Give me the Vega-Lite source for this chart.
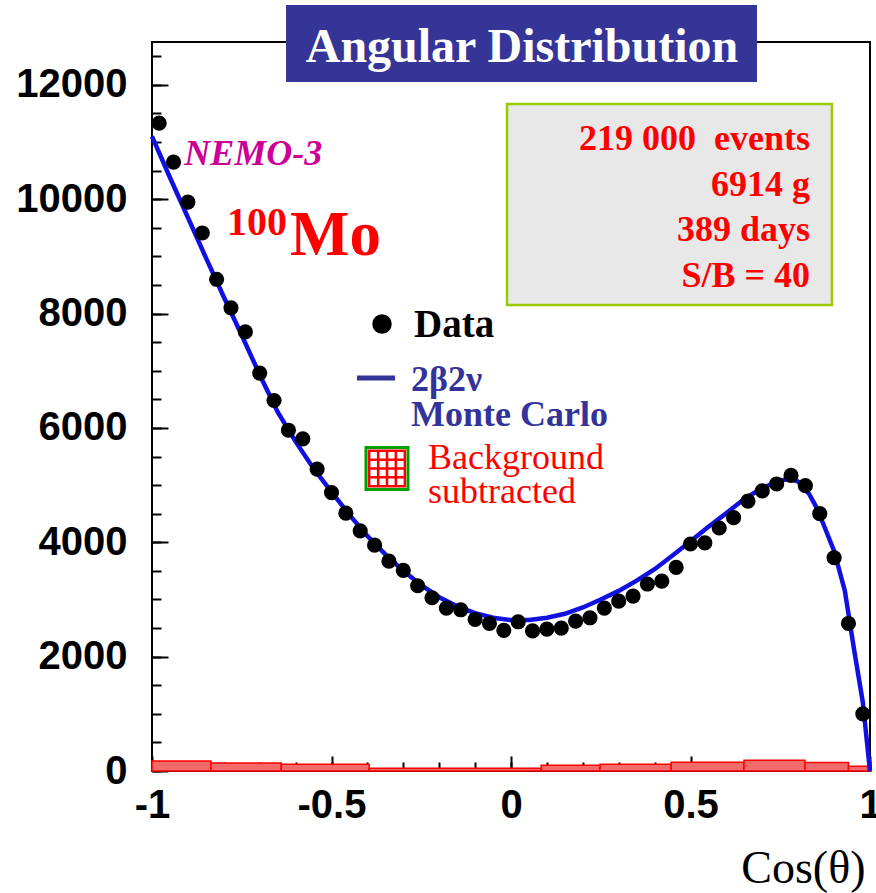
{
  "$schema": "https://vega.github.io/schema/vega-lite/v6.json",
  "width": 718,
  "height": 729,
  "autosize": "none",
  "padding": {"left": 152, "top": 42, "right": 6, "bottom": 122},
  "background": "white",
  "config": {
    "view": {"stroke": "black", "strokeWidth": 2},
    "axis": {"grid": false, "domain": false, "tickColor": "black", "tickWidth": 2, "labelColor": "black"}
  },
  "datasets": {
    "one": [{}],
    "bg": [
      {"lo": -1.0, "hi": -0.836, "n": 175},
      {"lo": -0.836, "hi": -0.64, "n": 140},
      {"lo": -0.64, "hi": -0.395, "n": 120},
      {"lo": -0.395, "hi": 0.084, "n": 50},
      {"lo": 0.084, "hi": 0.248, "n": 100},
      {"lo": 0.248, "hi": 0.446, "n": 120},
      {"lo": 0.446, "hi": 0.649, "n": 155},
      {"lo": 0.649, "hi": 0.819, "n": 190},
      {"lo": 0.819, "hi": 0.94, "n": 150},
      {"lo": 0.94, "hi": 1.0, "n": 85}
    ],
    "mc": [
      {"c": -1.0, "n": 11100}, {"c": -0.95, "n": 10380}, {"c": -0.9, "n": 9680}, {"c": -0.85, "n": 8980},
      {"c": -0.8, "n": 8290}, {"c": -0.75, "n": 7620}, {"c": -0.7, "n": 6930}, {"c": -0.65, "n": 6280},
      {"c": -0.6, "n": 5760}, {"c": -0.55, "n": 5290}, {"c": -0.5, "n": 4880}, {"c": -0.45, "n": 4480},
      {"c": -0.4, "n": 4110}, {"c": -0.35, "n": 3790}, {"c": -0.3, "n": 3500}, {"c": -0.25, "n": 3250},
      {"c": -0.2, "n": 3040}, {"c": -0.15, "n": 2880}, {"c": -0.1, "n": 2760}, {"c": -0.05, "n": 2680},
      {"c": 0.0, "n": 2640}, {"c": 0.05, "n": 2640}, {"c": 0.1, "n": 2680}, {"c": 0.15, "n": 2750},
      {"c": 0.2, "n": 2860}, {"c": 0.25, "n": 3000}, {"c": 0.3, "n": 3150}, {"c": 0.35, "n": 3330},
      {"c": 0.4, "n": 3530}, {"c": 0.45, "n": 3770}, {"c": 0.5, "n": 4020}, {"c": 0.55, "n": 4270},
      {"c": 0.6, "n": 4510}, {"c": 0.65, "n": 4760}, {"c": 0.7, "n": 4950}, {"c": 0.75, "n": 5080},
      {"c": 0.78, "n": 5110}, {"c": 0.8, "n": 5060}, {"c": 0.83, "n": 4850}, {"c": 0.85, "n": 4620},
      {"c": 0.87, "n": 4320}, {"c": 0.9, "n": 3850}, {"c": 0.93, "n": 3150}, {"c": 0.955, "n": 2150},
      {"c": 0.98, "n": 1200}, {"c": 1.0, "n": 0}
    ],
    "pts": [
      {"c": -0.98, "n": 11330}, {"c": -0.94, "n": 10650}, {"c": -0.9, "n": 9950}, {"c": -0.86, "n": 9410},
      {"c": -0.82, "n": 8600}, {"c": -0.78, "n": 8100}, {"c": -0.74, "n": 7680}, {"c": -0.7, "n": 6960},
      {"c": -0.66, "n": 6480}, {"c": -0.62, "n": 5960}, {"c": -0.58, "n": 5810}, {"c": -0.54, "n": 5280},
      {"c": -0.5, "n": 4870}, {"c": -0.46, "n": 4510}, {"c": -0.42, "n": 4200}, {"c": -0.38, "n": 3950},
      {"c": -0.34, "n": 3670}, {"c": -0.3, "n": 3510}, {"c": -0.26, "n": 3240}, {"c": -0.22, "n": 3030},
      {"c": -0.18, "n": 2850}, {"c": -0.14, "n": 2820}, {"c": -0.1, "n": 2650}, {"c": -0.06, "n": 2580},
      {"c": -0.02, "n": 2460}, {"c": 0.02, "n": 2610}, {"c": 0.06, "n": 2450}, {"c": 0.1, "n": 2480},
      {"c": 0.14, "n": 2500}, {"c": 0.18, "n": 2620}, {"c": 0.22, "n": 2680}, {"c": 0.26, "n": 2850},
      {"c": 0.3, "n": 2970}, {"c": 0.34, "n": 3060}, {"c": 0.38, "n": 3270}, {"c": 0.42, "n": 3320},
      {"c": 0.46, "n": 3560}, {"c": 0.5, "n": 3970}, {"c": 0.54, "n": 3990}, {"c": 0.58, "n": 4250},
      {"c": 0.62, "n": 4430}, {"c": 0.66, "n": 4720}, {"c": 0.7, "n": 4900}, {"c": 0.74, "n": 5020},
      {"c": 0.78, "n": 5170}, {"c": 0.82, "n": 4990}, {"c": 0.86, "n": 4500}, {"c": 0.9, "n": 3730},
      {"c": 0.94, "n": 2580}, {"c": 0.98, "n": 1000}
    ]
  },
  "resolve": {"axis": {"x": "independent", "y": "independent"}},
  "layer": [
    {
      "data": {"name": "bg"},
      "mark": {"type": "rect", "fill": "#f26b6b", "stroke": "#ff0000", "strokeWidth": 1.5},
      "encoding": {
        "x": {"field": "lo", "type": "quantitative", "scale": {"domain": [-1, 1], "nice": false, "zero": false},
          "axis": {"orient": "bottom", "values": [-1, -0.9, -0.8, -0.7, -0.6, -0.5, -0.4, -0.3, -0.2, -0.1, 0, 0.1, 0.2, 0.3, 0.4, 0.5, 0.6, 0.7, 0.8, 0.9, 1], "labels": false, "ticks": true, "tickSize": -9, "title": null}},
        "x2": {"field": "hi"},
        "y": {"field": "n", "type": "quantitative", "scale": {"domain": [0, 12750], "nice": false, "zero": false},
          "axis": {"orient": "left", "values": [0, 500, 1000, 1500, 2000, 2500, 3000, 3500, 4000, 4500, 5000, 5500, 6000, 6500, 7000, 7500, 8000, 8500, 9000, 9500, 10000, 10500, 11000, 11500, 12000, 12500], "labels": false, "ticks": true, "tickSize": -9, "title": null}},
        "y2": {"datum": 0}
      }
    },
    {
      "data": {"name": "mc"},
      "mark": {"type": "line", "color": "#1010e0", "strokeWidth": 4.5},
      "encoding": {
        "x": {"field": "c", "type": "quantitative", "scale": {"domain": [-1, 1], "nice": false, "zero": false},
          "axis": {"orient": "bottom", "values": [-1, -0.5, 0, 0.5, 1], "labels": false, "ticks": true, "tickSize": -15, "title": null}},
        "y": {"field": "n", "type": "quantitative", "scale": {"domain": [0, 12750], "nice": false, "zero": false},
          "axis": {"orient": "left", "values": [0, 2000, 4000, 6000, 8000, 10000, 12000], "labels": false, "ticks": true, "tickSize": -16, "title": null}}
      }
    },
    {
      "data": {"name": "pts"},
      "mark": {"type": "point", "shape": "circle", "filled": true, "size": 230, "color": "black", "opacity": 1},
      "encoding": {
        "x": {"field": "c", "type": "quantitative", "scale": {"domain": [-1, 1], "nice": false, "zero": false},
          "axis": {"orient": "bottom", "values": [-1, -0.5, 0, 0.5, 1], "ticks": false, "labelFont": "Liberation Sans", "labelFontWeight": "bold", "labelFontSize": 40, "labelPadding": 14, "labelExpr": "toString(datum.value)", "labelFlush": false, "labelOverlap": false,
            "title": "Cos(θ)", "titleFont": "Liberation Serif", "titleFontSize": 46, "titleFontWeight": "normal", "titleColor": "black", "titleAnchor": "end", "titleAlign": "right", "titleX": 713, "titleY": 111, "titleBaseline": "alphabetic"}},
        "y": {"field": "n", "type": "quantitative", "scale": {"domain": [0, 12750], "nice": false, "zero": false},
          "axis": {"orient": "left", "values": [0, 2000, 4000, 6000, 8000, 10000, 12000], "ticks": false, "labelFont": "Liberation Sans", "labelFontWeight": "bold", "labelFontSize": 40, "labelPadding": 25, "labelExpr": "toString(datum.value)", "labelBaseline": "middle", "labelFlush": false, "labelOverlap": false, "title": null}}
      }
    },
    {
      "data": {"name": "one"},
      "mark": {"type": "rect", "fill": "#353597"},
      "encoding": {
        "x": {"datum": -0.6267, "type": "quantitative", "axis": null},
        "x2": {"datum": 0.6852},
        "y": {"datum": 13397, "type": "quantitative", "axis": null},
        "y2": {"datum": 12050}
      }
    },
    {
      "data": {"name": "one"},
      "mark": {"type": "text", "text": "Angular Distribution", "font": "Liberation Serif", "fontWeight": "bold", "fontSize": 48, "color": "white", "align": "center", "baseline": "alphabetic"},
      "encoding": {
        "x": {"datum": 0.0306, "type": "quantitative", "axis": null},
        "y": {"datum": 12400, "type": "quantitative", "axis": null}
      }
    },
    {
      "data": {"name": "one"},
      "mark": {"type": "rect", "fill": "#e8e8e8", "stroke": "#99cc00", "strokeWidth": 2.5},
      "encoding": {
        "x": {"datum": -0.0111, "type": "quantitative", "axis": null},
        "x2": {"datum": 0.894},
        "y": {"datum": 11666, "type": "quantitative", "axis": null},
        "y2": {"datum": 8150}
      }
    },
    {
      "data": {"name": "one"},
      "mark": {"type": "text", "text": ["219 000\u00a0 events", "6914 g", "389 days", "S/B = 40"], "lineHeight": 45.5, "font": "Liberation Serif", "fontWeight": "bold", "fontSize": 36, "color": "#ff0000", "align": "right", "baseline": "alphabetic"},
      "encoding": {
        "x": {"datum": 0.8329, "type": "quantitative", "axis": null},
        "y": {"datum": 10861, "type": "quantitative", "axis": null}
      }
    },
    {
      "data": {"name": "one"},
      "mark": {"type": "text", "text": "NEMO-3", "font": "Liberation Serif", "fontWeight": "bold", "fontStyle": "italic", "fontSize": 36, "color": "#cc0099", "align": "left", "baseline": "alphabetic"},
      "encoding": {
        "x": {"datum": -0.91, "type": "quantitative", "axis": null},
        "y": {"datum": 10599, "type": "quantitative", "axis": null}
      }
    },
    {
      "data": {"name": "one"},
      "mark": {"type": "text", "text": "100", "font": "Liberation Serif", "fontWeight": "bold", "fontSize": 40, "color": "#ff0000", "align": "left", "baseline": "alphabetic"},
      "encoding": {
        "x": {"datum": -0.791, "type": "quantitative", "axis": null},
        "y": {"datum": 9375, "type": "quantitative", "axis": null}
      }
    },
    {
      "data": {"name": "one"},
      "mark": {"type": "text", "text": "Mo", "font": "Liberation Serif", "fontWeight": "bold", "fontSize": 63, "color": "#ff0000", "align": "left", "baseline": "alphabetic"},
      "encoding": {
        "x": {"datum": -0.6156, "type": "quantitative", "axis": null},
        "y": {"datum": 9025, "type": "quantitative", "axis": null}
      }
    },
    {
      "data": {"name": "one"},
      "mark": {"type": "point", "shape": "circle", "filled": true, "size": 380, "color": "black", "opacity": 1},
      "encoding": {
        "x": {"datum": -0.3593, "type": "quantitative", "axis": null},
        "y": {"datum": 7818, "type": "quantitative", "axis": null}
      }
    },
    {
      "data": {"name": "one"},
      "mark": {"type": "text", "text": "Data", "font": "Liberation Serif", "fontWeight": "bold", "fontSize": 39, "color": "black", "align": "left", "baseline": "alphabetic"},
      "encoding": {
        "x": {"datum": -0.2702, "type": "quantitative", "axis": null},
        "y": {"datum": 7591, "type": "quantitative", "axis": null}
      }
    },
    {
      "data": {"name": "one"},
      "mark": {"type": "rule", "color": "#333399", "strokeWidth": 5},
      "encoding": {
        "x": {"datum": -0.429, "type": "quantitative", "axis": null},
        "x2": {"datum": -0.323},
        "y": {"datum": 6874, "type": "quantitative", "axis": null}
      }
    },
    {
      "data": {"name": "one"},
      "mark": {"type": "text", "text": ["2β2ν", "Monte Carlo"], "lineHeight": 35, "font": "Liberation Serif", "fontWeight": "bold", "fontSize": 36, "color": "#333399", "align": "left", "baseline": "alphabetic"},
      "encoding": {
        "x": {"datum": -0.2786, "type": "quantitative", "axis": null},
        "y": {"datum": 6646, "type": "quantitative", "axis": null}
      }
    },
    {
      "data": {"name": "one"},
      "mark": {"type": "point", "shape": "square", "filled": true, "size": 1764, "fill": "white", "stroke": "#00a000", "strokeWidth": 3, "opacity": 1},
      "encoding": {
        "x": {"datum": -0.3454, "type": "quantitative", "axis": null},
        "y": {"datum": 5291, "type": "quantitative", "axis": null}
      }
    },
    {
      "data": {"name": "one"},
      "mark": {"type": "point", "shape": "M-0.85,-0.9V0.9M-0.42,-0.9V0.9M0,-0.9V0.9M0.42,-0.9V0.9M0.85,-0.9V0.9M-0.9,-0.85H0.9M-0.9,-0.42H0.9M-0.9,0H0.9M-0.9,0.42H0.9M-0.9,0.85H0.9", "filled": false, "size": 1764, "stroke": "#ff0000", "strokeWidth": 2.5, "opacity": 1},
      "encoding": {
        "x": {"datum": -0.3454, "type": "quantitative", "axis": null},
        "y": {"datum": 5291, "type": "quantitative", "axis": null}
      }
    },
    {
      "data": {"name": "one"},
      "mark": {"type": "text", "text": ["Background", "subtracted"], "lineHeight": 34, "font": "Liberation Serif", "fontWeight": "normal", "fontSize": 36, "color": "#ff0000", "align": "left", "baseline": "alphabetic"},
      "encoding": {
        "x": {"datum": -0.2312, "type": "quantitative", "axis": null},
        "y": {"datum": 5282, "type": "quantitative", "axis": null}
      }
    }
  ]
}
